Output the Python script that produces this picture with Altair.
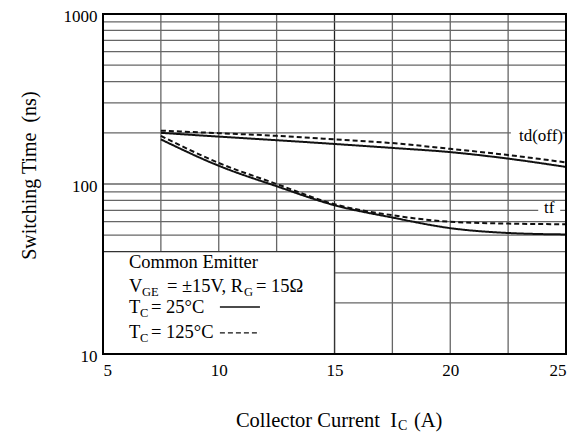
import altair as alt
import pandas as pd

# ---- data ----
x_ic = [7.5, 10, 12.5, 15, 17.5, 20, 22.5, 25]
td_off_25 = [200, 190, 181, 172, 163, 154, 141, 126]
td_off_125 = [206, 199, 192, 183, 174, 161, 148, 134]
tf_25 = [183, 128, 97, 75, 63.5, 55, 51.5, 50.5]
tf_125 = [192, 133, 100, 76, 65.5, 60, 58.5, 58]

x_ticks = [5, 10, 15, 20, 25]
y_ticks = [10, 100, 1000]
x_grid = [7.5, 10, 12.5, 17.5, 20, 22.5]
x_grid_dark = [15]
y_grid = [20, 30, 40, 50, 60, 70, 80, 90, 100,
          200, 300, 400, 500, 600, 700, 800, 900]

FONT = "Liberation Serif"

rows = []
for name, temp, vals in [("td(off)", "25", td_off_25), ("td(off)", "125", td_off_125),
                         ("tf", "25", tf_25), ("tf", "125", tf_125)]:
    for xv, yv in zip(x_ic, vals):
        rows.append({"x": xv, "y": yv, "curve": name + "_" + temp, "temp": temp})
curves_df = pd.DataFrame(rows)

xscale = alt.Scale(domain=[5, 25], nice=False, zero=False)
yscale = alt.Scale(type="log", domain=[10, 1000], nice=False)
xaxis = alt.Axis(values=x_ticks, grid=False, ticks=False, domain=False, title=None,
                 labelFont=FONT, labelFontSize=17, labelColor="black", labelPadding=8)
yaxis = alt.Axis(values=y_ticks, grid=False, ticks=False, domain=False, title=None, format="d",
                 labelFont=FONT, labelFontSize=17, labelColor="black", labelPadding=6,
                 labelOffset=2)


def X(f="x"):
    return alt.X(f"{f}:Q", scale=xscale, axis=xaxis)


def Y(f="y"):
    return alt.Y(f"{f}:Q", scale=yscale, axis=yaxis)


base = alt.Chart(curves_df)

vgrid = alt.Chart(pd.DataFrame({"x": x_grid})).mark_rule(color="#666", strokeWidth=1.3).encode(x=X())
vgrid_dark = alt.Chart(pd.DataFrame({"x": x_grid_dark})).mark_rule(color="#222", strokeWidth=1.3).encode(x=X())
hgrid = alt.Chart(pd.DataFrame({"y": y_grid})).mark_rule(color="#666", strokeWidth=1.3).encode(y=Y())

# legend box (covers grid in lower-left)
legend_box = alt.Chart(pd.DataFrame({"x": [5], "x2": [15], "y": [10], "y2": [40]})).mark_rect(
    fill="white", stroke="#333", strokeWidth=1.3
).encode(x=X(), x2="x2:Q", y=Y(), y2="y2:Q")

lines = base.mark_line(color="#111", strokeWidth=2, interpolate="monotone").encode(
    x=X(), y=Y(), detail="curve:N",
    strokeDash=alt.StrokeDash("temp:N", scale=alt.Scale(domain=["25", "125"], range=[[1, 0], [5, 3]]), legend=None),
)

# label backgrounds
lab_bg = alt.Chart(pd.DataFrame({"x": [22.62, 23.8], "x2": [24.85, 24.75], "y": [170, 64], "y2": [215, 78]})).mark_rect(
    fill="white"
).encode(x=X(), x2="x2:Q", y=Y(), y2="y2:Q")

labels = alt.Chart(pd.DataFrame({"x": [23.92, 24.27], "y": [191, 72.3], "t": ["td(off)", "tf"]})).mark_text(
    font=FONT, fontSize=17, align="center", baseline="middle", color="black"
).encode(x=X(), y=Y(), text="t:N")

# legend text: main pieces
leg_main = alt.Chart(pd.DataFrame({
    "x": [6.12, 6.12, 7.76, 11.61, 6.12, 7.07, 6.12, 7.07],
    "y": [32.1, 23.2, 23.2, 23.2, 17.42, 17.42, 12.42, 12.42],
    "t": ["Common Emitter", "V", "= \u00b115V, R", "= 15\u03a9", "T", "= 25\u00b0C", "T", "= 125\u00b0C"],
})).mark_text(font=FONT, fontSize=18.5, align="left", baseline="alphabetic", color="black").encode(
    x=X(), y=Y(), text="t:N")

leg_sub = alt.Chart(pd.DataFrame({
    "x": [6.68, 11.09, 6.60, 6.60],
    "y": [21.9, 21.9, 16.5, 11.77],
    "t": ["GE", "G", "C", "C"],
})).mark_text(font=FONT, fontSize=12.5, align="left", baseline="alphabetic", color="black").encode(
    x=X(), y=Y(), text="t:N")

leg_lines = alt.Chart(pd.DataFrame({
    "x": [10.05, 10.05], "x2": [11.78, 11.78], "y": [18.9, 13.3], "temp": ["25", "125"]
})).mark_rule(color="#111", strokeWidth=1.3).encode(
    x=X(), x2="x2:Q", y=Y(),
    strokeDash=alt.StrokeDash("temp:N", scale=alt.Scale(domain=["25", "125"], range=[[1, 0], [5, 3]]), legend=None),
)

# axis titles
xt_main = alt.Chart(pd.DataFrame({"x": [17.70], "y": [3.72], "t": ["Collector Current\u00a0 I"]})).mark_text(
    font=FONT, fontSize=20.5, align="right", baseline="alphabetic", color="black").encode(x=X(), y=Y(), text="t:N")
xt_sub = alt.Chart(pd.DataFrame({"x": [17.74], "y": [3.56], "t": ["C"]})).mark_text(
    font=FONT, fontSize=14, align="left", baseline="alphabetic", color="black").encode(x=X(), y=Y(), text="t:N")
xt_end = alt.Chart(pd.DataFrame({"x": [18.43], "y": [3.72], "t": ["(A)"]})).mark_text(
    font=FONT, fontSize=20.5, align="left", baseline="alphabetic", color="black").encode(x=X(), y=Y(), text="t:N")
yt = alt.Chart(pd.DataFrame({"x": [1.85], "y": [112], "t": ["Switching Time\u00a0 (ns)"]})).mark_text(
    font=FONT, fontSize=20, align="center", baseline="middle", angle=270, color="black").encode(x=X(), y=Y(), text="t:N")

border = alt.Chart(pd.DataFrame({"x": [5], "x2": [25], "y": [10], "y2": [1000]})).mark_rect(
    fillOpacity=0, stroke="black", strokeWidth=2
).encode(x=X(), x2="x2:Q", y=Y(), y2="y2:Q")

chart = alt.layer(
    vgrid, vgrid_dark, hgrid, legend_box, lines, lab_bg, labels,
    leg_main, leg_sub, leg_lines, xt_main, xt_sub, xt_end, yt, border
).properties(
    width=463, height=340,
    autosize=alt.AutoSizeParams(type="none"),
    padding={"left": 95, "top": 6, "right": 3, "bottom": 79},
    background="white",
).configure_view(stroke=None)

chart.save("out.html", embed_options={"renderer": "svg", "actions": False})
